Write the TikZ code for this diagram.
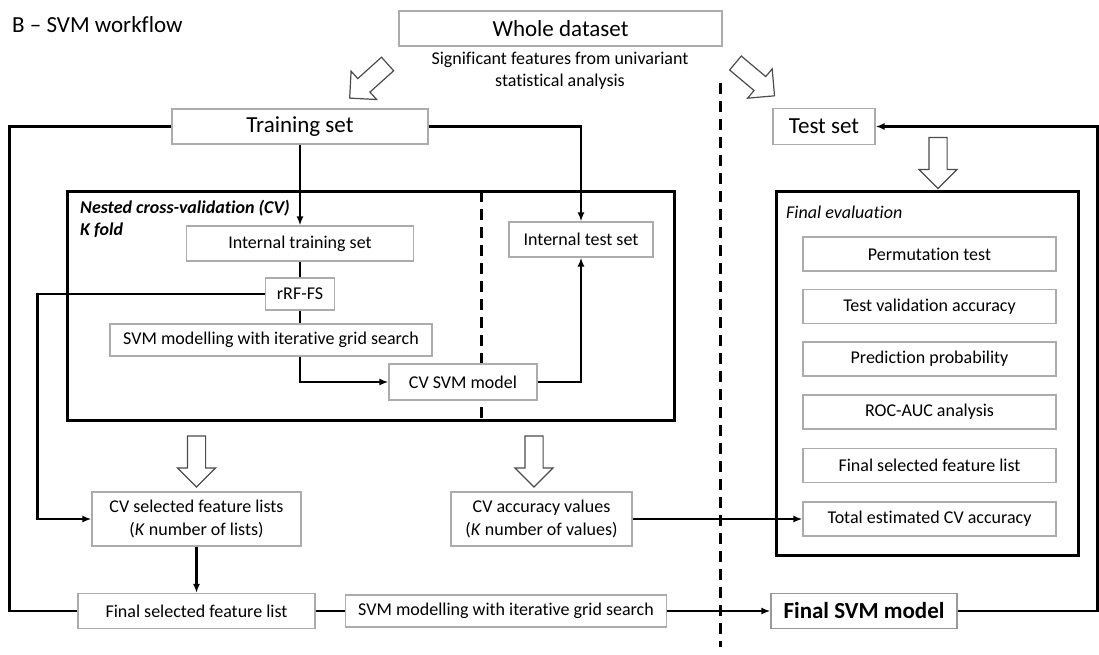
\documentclass[tikz,border=0pt]{standalone}
\usepackage{fontspec}
\setmainfont{Carlito}[Ligatures={TeX,NoCommon}]
\usetikzlibrary{positioning, shapes.arrows, arrows.meta}

\tikzset{
  box/.style={draw=gray!65, line width=1.2pt, fill=white, inner sep=0pt, align=center,
    font=\fontsize{18}{22.5}\selectfont},
  bigbox/.style={box, font=\fontsize{23}{27}\selectfont},
  panel/.style={draw, line width=3pt, inner sep=0pt},
  link/.style={line width=2.6pt},
  arr/.style={link, -{Latex[length=9pt,width=7pt]}},
  divider/.style={line width=3pt, dash pattern=on 11pt off 7pt},
  hollow/.style={single arrow, draw=black!70, line width=1.2pt, fill=white, inner xsep=0pt,
    inner ysep=8.5pt, minimum height=51pt, single arrow head extend=10pt}
}

\begin{document}
\begin{tikzpicture}[x=1pt, y=-1pt]
    \fill[white] (0,0) rectangle (1099,654);
    \useasboundingbox (0,0) rectangle (1099,654);

    \node[anchor=west, inner sep=0pt, font=\fontsize{23}{27}\selectfont] (title) at (12,25) {B – SVM workflow};

    % whole dataset and split
    \node[bigbox, minimum width=323pt, minimum height=35pt] (whole) at (560.5,28.5) {Whole dataset};
    \node[align=center, inner sep=0pt, font=\fontsize{18}{22}\selectfont] (sig) at (560,71) {Significant features from univariant\\statistical analysis};
    \node[hollow, rotate=222] (totrain) at (372,78) {};
    \node[hollow, rotate=-40] (totest) at (751.5,76.5) {};
    \draw[divider] (720,83) -- (720,647);

    \node[bigbox, minimum width=256pt, minimum height=35pt] (train) at (300,126.5) {Training set};
    \node[bigbox, minimum width=102pt, minimum height=36pt] (test) at (824,126.5) {Test set};

    % nested cross-validation
    \node[panel, minimum width=607pt, minimum height=229pt] (nested) at (370.5,305.5) {};
    \node[anchor=west, align=left, inner sep=0pt, font=\fontsize{18}{22}\selectfont\bfseries\itshape] (nestlbl) at (80,219) {Nested cross-validation (CV)\\K fold};
    \draw[divider] (481,191) -- (481,420);

    \node[box, minimum width=227pt, minimum height=35pt] (itrain) at (300,243.5) {Internal training set};
    \node[box, minimum width=144pt, minimum height=35pt] (itest) at (581,239.5) {Internal test set};
    \node[box, minimum width=69pt, minimum height=32pt] (rrf) at (300,294) {rRF-FS};
    \node[box, minimum width=322pt, minimum height=32pt] (isvm) at (271,340) {SVM modelling with iterative grid search};
    \node[box, minimum width=148pt, minimum height=36pt] (cvsvm) at (463,382) {CV SVM model};

    \draw[arr] (train) -- (itrain);
    \draw[arr] (train.east) -| (itest.north);
    \draw[link] (itrain) -- (rrf);
    \draw[link] (rrf.south) -- (rrf.south |- isvm.north);
    \draw[arr] (isvm.south -| rrf) |- (cvsvm.west);
    \draw[arr] (cvsvm.east) -| (itest.south);

    % final evaluation
    \node[hollow, rotate=-90] (toeval) at (938,158.5) {};
    \node[panel, minimum width=302pt, minimum height=364pt] (evalbox) at (927,373) {};
    \node[anchor=west, inner sep=0pt, font=\fontsize{18}{22}\selectfont\itshape] (evallbl) at (786,212) {Final evaluation};
    \foreach \y/\name/\txt in {254/perm/Permutation test, 306.5/tva/Test validation accuracy,
        359/pred/Prediction probability, 412/roc/ROC-AUC analysis,
        465.5/efsl/Final selected feature list, 519/tot/Total estimated CV accuracy}
        \node[box, minimum width=253pt, minimum height=34pt] (\name) at (929.5,\y) {\txt};

    % CV outputs
    \node[hollow, rotate=-90] (tosel) at (196.5,457) {};
    \node[hollow, rotate=-90] (toacc) at (534,457) {};
    \node[box, minimum width=209pt, minimum height=54pt] (cvsel) at (196.5,519) {CV selected feature lists\\(\textit{K} number of lists)};
    \node[box, minimum width=181pt, minimum height=54pt] (cvacc) at (541.5,519) {CV accuracy values\\(\textit{K} number of values)};

    \node[box, minimum width=237pt, minimum height=35pt] (finsel) at (196.5,611) {Final selected feature list};
    \node[box, minimum width=321pt, minimum height=32pt] (fsvm) at (506,611) {SVM modelling with iterative grid search};
    \node[box, draw=gray!80, minimum width=186pt, minimum height=35pt, font=\fontsize{23}{27}\selectfont\bfseries] (finalsvm) at (864,611) {Final SVM model};
    \coordinate (rim) at (1097.5,611);

    \draw[arr] (rrf.west) -| ([xshift=-54pt]cvsel.west) -- (cvsel.west);
    \draw[arr] (cvacc.east) -- (tot.west);
    \draw[arr] (cvsel) -- (finsel);
    \draw[link] (train.west) -| ([xshift=-68pt]finsel.west) -- (finsel.west);
    \draw[link] (finsel) -- (fsvm);
    \draw[arr] (fsvm) -- (finalsvm);
    \draw[arr] (finalsvm.east) -- (rim) |- (test.east);
\end{tikzpicture}
\end{document}
